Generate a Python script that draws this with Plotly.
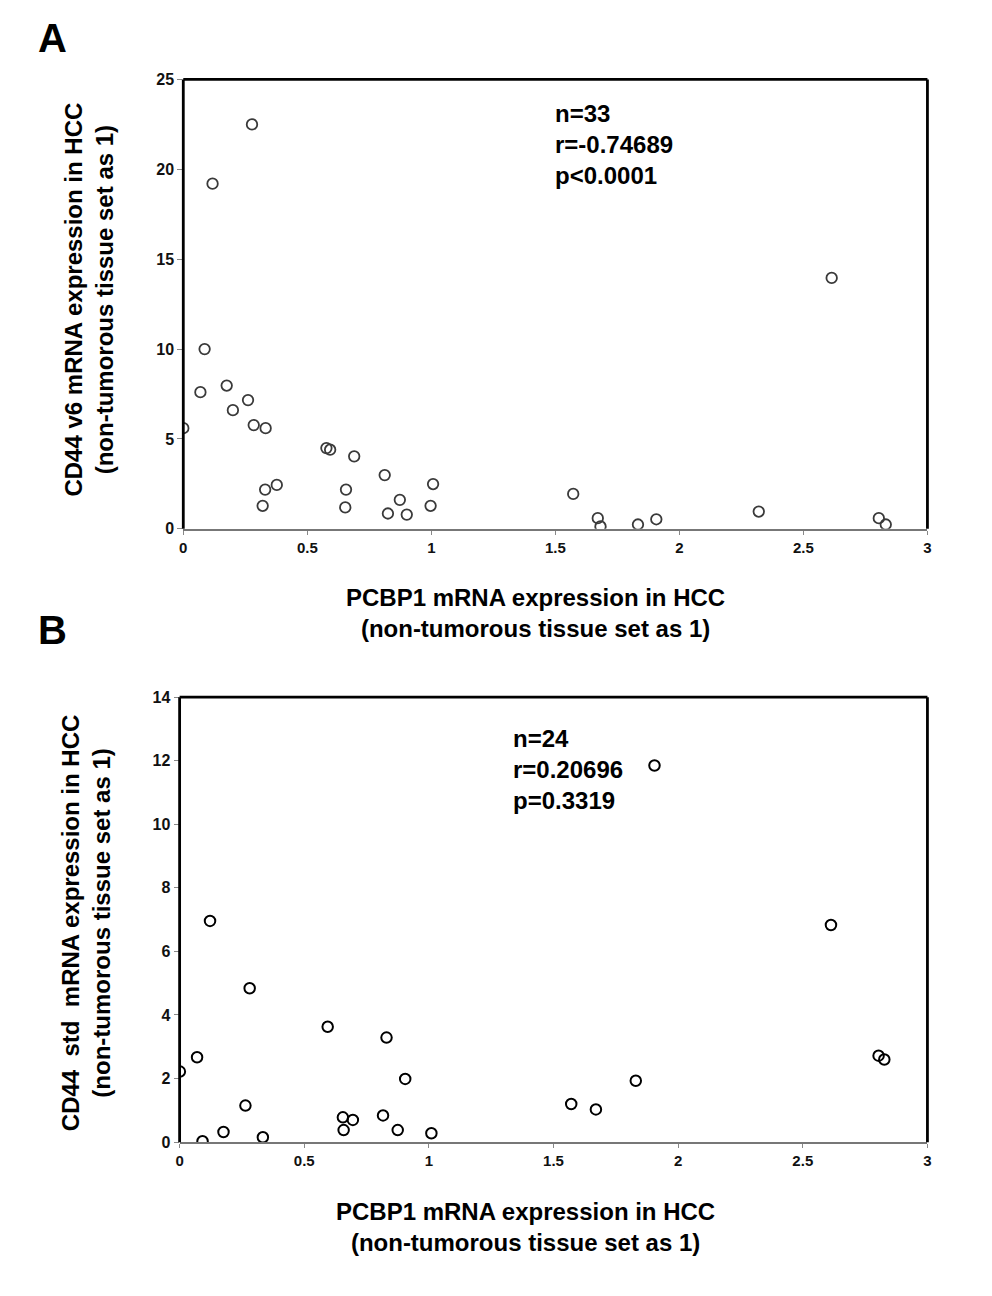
import plotly.graph_objects as go

# Panel A: PCBP1 vs CD44 v6 (n=33)
pcbp1_a = [0.277, 0.118, 0.086, 0.069, 0.175, 0.261, 0.200, 0.000, 0.284, 0.332, 0.577,
           0.592, 0.689, 0.812, 1.007, 0.377, 0.330, 0.656, 0.873, 0.320, 0.653, 0.997,
           0.825, 0.901, 1.572, 1.671, 1.682, 1.833, 1.907, 2.320, 2.614, 2.804, 2.832]
cd44v6_a = [22.5, 19.2, 10.0, 7.6, 7.97, 7.16, 6.6, 5.6, 5.77, 5.6, 4.49,
            4.4, 4.03, 2.99, 2.49, 2.44, 2.18, 2.18, 1.61, 1.28, 1.19, 1.28,
            0.85, 0.79, 1.94, 0.59, 0.13, 0.24, 0.53, 0.96, 13.96, 0.59, 0.24]

# Panel B: PCBP1 vs CD44 std (n=24)
pcbp1_b = [0.122, 0.281, 0.594, 0.830, 0.070, 0.001, 0.905, 0.264, 0.655, 0.695, 0.816, 0.658,
           0.875, 0.176, 1.010, 0.334, 0.092, 1.905, 2.613, 2.804, 2.827, 1.830, 1.571, 1.670]
cd44std_b = [6.96, 4.84, 3.63, 3.29, 2.67, 2.22, 1.99, 1.15, 0.78, 0.70, 0.84, 0.38,
             0.38, 0.32, 0.28, 0.155, 0.03, 11.85, 6.83, 2.72, 2.60, 1.93, 1.20, 1.03]

x_ticks = [0, 0.5, 1, 1.5, 2, 2.5, 3]
y_ticks_a = [0, 5, 10, 15, 20, 25]
y_ticks_b = [0, 2, 4, 6, 8, 10, 12, 14]

stats_a = "n=33<br>r=-0.74689<br>p&lt;0.0001"
stats_b = "n=24<br>r=0.20696<br>p=0.3319"
x_title = "PCBP1 mRNA expression in HCC<br>(non-tumorous tissue set as 1)"
y_title_a = "CD44 v6 mRNA expression in HCC<br>(non-tumorous tissue set as 1)"
y_title_b = "CD44 \u00a0std \u00a0mRNA expression in HCC<br>(non-tumorous tissue set as 1)"

# the page body keeps its default 8px margin, so the figure is 16px smaller
# than the window and page positions are shifted by 8px
PAGE_W, PAGE_H = 992, 1296
BODY = 8
W, H = PAGE_W - 2 * BODY, PAGE_H - 2 * BODY
FONT = "Arial, Liberation Sans, sans-serif"


def px_x(v):
    return (v - BODY) / W


def px_y(v):
    return 1 - (v - BODY) / H


fig = go.Figure()
fig.add_trace(go.Scatter(x=pcbp1_a, y=cd44v6_a, mode="markers", xaxis="x", yaxis="y",
                         marker={"symbol": "circle-open", "size": 10.5, "color": "#3a3a3a", "line": {"width": 1.8}}))
fig.add_trace(go.Scatter(x=pcbp1_b, y=cd44std_b, mode="markers", xaxis="x2", yaxis="y2",
                         marker={"symbol": "circle-open", "size": 10.5, "color": "#000000", "line": {"width": 2}}))

xtickfont = {"family": FONT, "size": 15, "color": "#111", "weight": "bold"}
ytickfont = {"family": FONT, "size": 16, "color": "#111", "weight": "bold"}
xcommon = dict(range=[0, 3], tickvals=x_ticks, ticktext=[f"{t:g}" for t in x_ticks], showgrid=False, zeroline=False,
               showline=True, linecolor="#777", linewidth=1.5, ticks="outside", ticklen=4, tickcolor="#888",
               tickfont=xtickfont, fixedrange=True)
ycommon = dict(showgrid=False, zeroline=False, showline=False, ticks="outside", ticklen=5, tickcolor="#888",
               tickfont=ytickfont, fixedrange=True)

fig.update_layout(
    width=W, height=H, showlegend=False,
    paper_bgcolor="white", plot_bgcolor="white",
    margin={"l": 0, "r": 0, "t": 0, "b": 0},
    xaxis=dict(domain=[px_x(180.7), px_x(931)], anchor="y", **xcommon),
    yaxis=dict(domain=[px_y(527.7), px_y(72.3)], anchor="x", range=[0, 25], tickvals=y_ticks_a, **ycommon),
    xaxis2=dict(domain=[px_x(177), px_x(931)], anchor="y2", **xcommon),
    yaxis2=dict(domain=[px_y(1149.3), px_y(698.3)], anchor="x2", range=[0, 14], tickvals=y_ticks_b, **ycommon),
)

# frame: thick top, left, right edges
for xr, yr in [("x domain", "y domain"), ("x2 domain", "y2 domain")]:
    for x0, y0, x1, y1 in [(0, 0, 0, 1), (0, 1, 1, 1), (1, 1, 1, 0)]:
        fig.add_shape(type="line", xref=xr, yref=yr, x0=x0, y0=y0, x1=x1, y1=y1,
                      line={"color": "black", "width": 2.8})

title_font = {"family": FONT, "size": 24, "color": "black", "weight": "bold"}
notes = [
    dict(text="A", x=px_x(32), y=px_y(30), xanchor="left", yanchor="middle",
         font={"family": FONT, "size": 40, "color": "black", "weight": "bold"}),
    dict(text="B", x=px_x(32), y=px_y(630), xanchor="left", yanchor="middle",
         font={"family": FONT, "size": 40, "color": "black", "weight": "bold"}),
    dict(text=x_title, x=px_x(536), y=px_y(613), xanchor="center", yanchor="middle", font=title_font),
    dict(text=x_title, x=px_x(526), y=px_y(1235), xanchor="center", yanchor="middle", font=title_font),
    dict(text=y_title_a, x=px_x(86), y=px_y(295), xanchor="center", yanchor="middle", textangle=-90, font=title_font),
    dict(text=y_title_b, x=px_x(82), y=px_y(927), xanchor="center", yanchor="middle", textangle=-90, font=title_font),
    dict(text=stats_a, x=px_x(553), y=px_y(91), xanchor="left", yanchor="top", align="left", font=title_font),
    dict(text=stats_b, x=px_x(511), y=px_y(725), xanchor="left", yanchor="top", align="left", font=title_font),
]
for n in notes:
    fig.add_annotation(xref="paper", yref="paper", showarrow=False, **n)

fig.write_html("out.html")
